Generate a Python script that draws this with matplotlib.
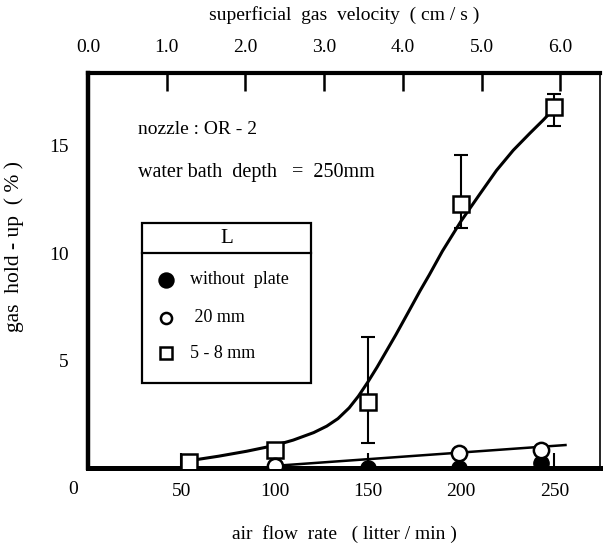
import matplotlib
matplotlib.use("Agg")
import matplotlib.pyplot as plt
from matplotlib.patches import Rectangle
from matplotlib.lines import Line2D

plt.rcParams['font.family'] = ['Liberation Serif', 'DejaVu Serif']

# data: air flow rate (L/min) vs gas hold-up (%)
q_sq = [54, 100, 150, 200, 250]
h_sq = [0.28, 0.84, 3.07, 12.3, 16.8]
err_lo = [0.0, 0.0, 1.91, 1.14, 0.85]
err_hi = [0.0, 0.0, 3.03, 2.26, 0.6]

q_open = [100, 199, 243]
h_open = [0.1, 0.7, 0.86]

q_fill = [150, 199, 243]
h_fill = [0.0, 0.0, 0.25]

# hand-drawn fit curves
q_fit_sq = [55, 70, 85, 100, 110, 121, 128, 134, 140, 145, 150, 155, 160, 165,
            172, 178, 183, 190, 200, 210, 219, 228, 237, 244, 250]
h_fit_sq = [0.35, 0.55, 0.78, 1.05, 1.3, 1.65, 1.95, 2.3, 2.8, 3.35, 4.0, 4.7,
            5.45, 6.2, 7.3, 8.25, 9.0, 10.1, 11.5, 12.75, 13.86, 14.8, 15.6,
            16.2, 16.75]
q_fit_open = [100, 256]
h_fit_open = [0.1, 1.07]

xticks = [50, 100, 150, 200, 250]
yticks = [5, 10, 15]
top_ticks = [0, 1, 2, 3, 4, 5, 6]
lpm_per_cms = 42.2

fig = plt.figure(figsize=(6.03, 5.47), dpi=100)
ax = fig.add_axes([0.146, 0.1444, 0.849, 0.7222])

ax.plot(q_fit_sq, h_fit_sq, color='black', lw=2.2, zorder=2)
ax.plot(q_fit_open, h_fit_open, color='black', lw=1.8, zorder=2)
ax.errorbar(q_sq, h_sq, yerr=[err_lo, err_hi], fmt='none', ecolor='black',
            elinewidth=1.5, capsize=5, capthick=1.5, zorder=3)
ax.plot(q_sq, h_sq, 's', ms=11, mfc='white', mec='black', mew=1.8, zorder=4)
ax.plot(q_fill, h_fill, 'o', ms=11, mfc='black', mec='black', zorder=4)
ax.plot(q_open, h_open, 'o', ms=11, mfc='white', mec='black', mew=1.8, zorder=5)

ax.set_xlim(0, 274.5)
ax.set_ylim(0, 18.4)
ax.set_xticks(xticks)
ax.set_xticklabels([str(v) for v in xticks], fontsize=14)
ax.set_yticks(yticks)
ax.set_yticklabels([str(v) for v in yticks], fontsize=14)
ax.tick_params(axis='x', direction='in', length=11, width=1.5, pad=11)
ax.tick_params(axis='y', length=0, pad=14)

for side, lw in [('left', 3.2), ('bottom', 3.6), ('top', 3.0), ('right', 1.2)]:
    ax.spines[side].set_linewidth(lw)

ax.text(-0.03, -0.055, '0', transform=ax.transAxes, fontsize=14,
        ha='center', va='center')
ax.set_xlabel('air  flow  rate   ( litter / min )', fontsize=14, labelpad=18)
ax.set_ylabel('gas  hold - up  ( % )', fontsize=15.5)
ax.yaxis.set_label_coords(-0.125, 0.56)

top = ax.secondary_xaxis('top', functions=(lambda q: q / lpm_per_cms,
                                             lambda v: v * lpm_per_cms))
top.set_xticks(top_ticks)
top.set_xticklabels(['%.1f' % v for v in top_ticks], fontsize=14)
top.tick_params(direction='in', length=13, width=1.8, pad=12)
top.set_xlabel('superficial  gas  velocity  ( cm / s )', fontsize=14, labelpad=14)

ax.text(0.098, 0.856, 'nozzle : OR - 2', transform=ax.transAxes,
        fontsize=14, va='center')
ax.text(0.098, 0.749, 'water bath  depth   =  250mm', transform=ax.transAxes,
        fontsize=14.5, va='center')

# legend box
ax.add_patch(Rectangle((0.1055, 0.2152), 0.33, 0.4051, transform=ax.transAxes,
                       fill=False, edgecolor='black', lw=1.6, zorder=6))
ax.add_line(Line2D([0.1055, 0.4355], [0.5443, 0.5443], transform=ax.transAxes,
                   color='black', lw=1.6, zorder=6))
ax.text(0.27, 0.582, 'L', transform=ax.transAxes, fontsize=15,
        ha='center', va='center')
legend_rows = [
    ('o', 'black', 'without  plate', 0.476, 10),
    ('o', 'white', ' 20 mm', 0.380, 8),
    ('s', 'white', '5 - 8 mm', 0.291, 8),
]
for mk, fc, label, yy, ms in legend_rows:
    ax.plot([0.152], [yy], mk, ms=ms, mfc=fc, mec='black', mew=1.8,
            transform=ax.transAxes, zorder=7)
    ax.text(0.2, yy, label, transform=ax.transAxes, fontsize=13, va='center')

fig.savefig('out.png', dpi=100)
